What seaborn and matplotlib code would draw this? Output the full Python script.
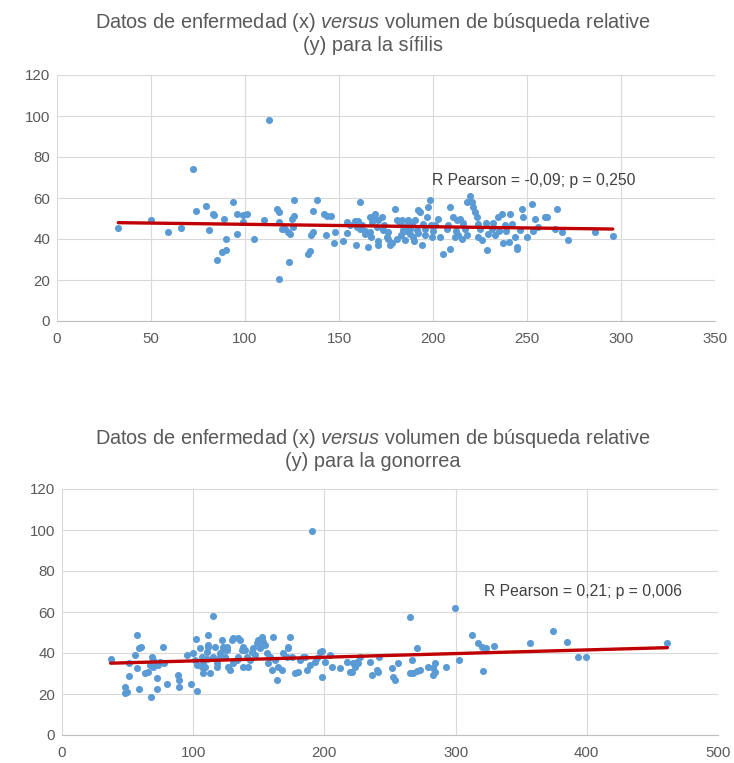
import matplotlib
matplotlib.use("Agg")
import matplotlib.pyplot as plt
import seaborn as sns
import pandas as pd

# ---------------- data ----------------
syph_x = [32.6, 49.8, 59.2, 66.0, 72.5, 73.8, 79.3, 80.9, 83.0, 83.5,
          89.0, 85.0, 87.6, 90.0, 90.0, 93.8, 96.0, 98.8, 101.3, 96.0,
          99.0, 104.8, 110.3, 112.8, 116.8, 118.0, 118.0, 119.5, 121.3, 123.0,
          124.0, 118.0, 123.6, 126.2, 124.8, 126.0, 125.7, 133.3, 134.6, 135.0,
          136.0, 136.0, 138.5, 142.0, 143.8, 145.6, 143.0, 147.3, 147.9, 152.3,
          154.4, 154.0, 159.0, 158.5, 160.3, 161.2, 159.4, 161.2, 165.6, 163.8,
          166.5, 167.4, 169.1, 170.0, 170.9, 166.5, 169.1, 170.9, 172.7, 173.6,
          175.4, 176.3, 179.8, 177.1, 180.7, 182.4, 183.3, 184.2, 185.1, 186.0,
          186.9, 187.7, 188.6, 189.5, 190.4, 191.3, 192.2, 193.1, 194.0, 194.8,
          195.7, 196.6, 197.5, 198.4, 199.3, 201.0, 202.8, 203.7, 205.5, 207.2,
          209.0, 209.0, 210.8, 211.7, 212.6, 213.4, 214.3, 215.2, 217.0, 217.9,
          219.7, 220.6, 221.5, 222.3, 223.2, 224.1, 224.1, 225.0, 225.9, 228.6,
          229.5, 231.3, 233.1, 234.8, 236.6, 238.4, 240.2, 241.0, 241.9, 243.7,
          244.6, 246.3, 247.2, 248.1, 249.9, 252.5, 254.3, 259.6, 260.5, 265.8,
          264.9, 268.4, 272.0, 286.2, 295.6, 256.0, 253.0, 244.5, 178.0, 181.0,
          183.0, 185.0, 188.0, 190.0, 192.0, 196.0, 199.0, 200.0, 156.0, 162.0,
          164.0, 167.0, 171.0, 174.0, 176.0, 208.0, 212.0, 216.0, 228.0, 232.0,
          235.0, 239.0, 237.0, 218.0]
syph_y = [45.6, 49.1, 43.6, 45.6, 74.0, 53.7, 56.0, 44.6, 52.0, 51.5,
          50.0, 30.0, 33.7, 34.8, 40.0, 58.0, 52.4, 51.7, 52.4, 42.6,
          48.3, 40.2, 49.5, 97.9, 54.8, 53.2, 48.3, 45.0, 45.0, 43.4,
          42.6, 20.7, 28.8, 59.2, 50.0, 51.0, 45.9, 32.9, 34.1, 41.8,
          43.4, 53.5, 58.9, 52.4, 51.0, 51.0, 41.8, 38.0, 43.4, 38.9,
          42.9, 48.3, 36.9, 49.0, 49.0, 58.0, 45.9, 45.0, 36.1, 42.6,
          43.4, 48.3, 50.0, 45.9, 36.9, 50.7, 52.4, 49.1, 50.7, 44.3,
          41.0, 43.4, 54.8, 36.9, 49.1, 47.5, 49.1, 44.3, 39.4, 46.7,
          49.1, 42.6, 47.5, 41.0, 49.1, 44.3, 54.0, 53.2, 36.9, 47.5,
          41.8, 50.7, 55.6, 58.9, 41.0, 46.7, 50.0, 41.0, 32.9, 45.1,
          55.6, 35.3, 50.7, 41.0, 49.1, 41.8, 49.9, 40.2, 45.1, 41.8,
          60.8, 58.1, 55.6, 53.2, 50.7, 47.5, 41.0, 45.1, 39.4, 34.5,
          42.6, 45.1, 41.8, 50.7, 52.4, 46.7, 38.5, 52.4, 47.5, 41.0,
          35.3, 44.3, 54.8, 50.7, 41.0, 57.3, 50.0, 50.7, 50.7, 54.8,
          45.0, 43.4, 39.4, 43.4, 41.3, 46.0, 44.0, 36.0, 38.0, 40.0,
          42.0, 44.0, 45.0, 39.0, 43.0, 45.0, 47.0, 44.0, 47.0, 47.0,
          44.0, 41.0, 39.0, 47.0, 40.0, 47.0, 44.0, 48.0, 48.0, 48.0,
          44.0, 44.0, 38.0, 58.0]

gono_x = [37.1, 48.0, 49.3, 48.0, 51.3, 51.3, 56.9, 58.9, 60.0, 55.6,
          57.0, 58.9, 63.3, 65.8, 67.6, 68.6, 69.4, 70.9, 73.2, 74.7,
          72.2, 72.6, 77.2, 77.7, 79.8, 88.6, 89.4, 89.4, 95.0, 98.0,
          100.0, 101.4, 102.7, 102.0, 67.0, 69.6, 105.2, 106.5, 107.7, 109.0,
          110.3, 111.5, 111.5, 114.9, 112.8, 117.9, 120.4, 123.0, 125.5, 128.0,
          130.6, 134.4, 137.0, 138.2, 130.6, 134.4, 115.3, 116.6, 117.9, 120.4,
          121.7, 123.0, 124.2, 125.5, 126.8, 129.3, 133.2, 103.1, 106.5, 107.7,
          110.3, 111.5, 135.7, 138.2, 139.5, 140.8, 142.0, 143.3, 144.6, 145.8,
          147.1, 148.4, 149.6, 150.9, 152.2, 153.4, 154.7, 156.0, 157.2, 158.5,
          159.8, 161.0, 162.3, 163.6, 164.9, 167.4, 168.7, 171.3, 172.5, 173.8,
          175.1, 177.6, 180.1, 181.4, 183.9, 186.5, 189.0, 194.1, 196.6, 197.9,
          200.5, 204.3, 205.6, 211.9, 217.0, 219.5, 222.0, 224.6, 227.1, 234.8,
          236.0, 239.9, 190.3, 152.2, 172.5, 185.2, 192.8, 197.9, 220.8, 223.3,
          225.8, 241.1, 241.9, 251.3, 252.5, 253.8, 256.3, 265.2, 266.5, 270.4,
          265.2, 267.8, 270.4, 272.9, 279.2, 283.0, 283.0, 284.3, 284.3, 292.7,
          299.5, 302.8, 312.3, 317.3, 319.9, 323.2, 329.5, 321.1, 356.7, 374.0,
          384.7, 393.5, 399.4, 461.4]
gono_y = [36.9, 23.6, 21.1, 20.3, 28.8, 35.0, 48.8, 42.3, 43.1, 39.0,
          32.5, 22.3, 30.1, 30.9, 18.7, 38.0, 36.6, 35.0, 34.1, 35.6,
          27.7, 22.3, 42.8, 35.0, 24.9, 29.3, 26.8, 23.6, 39.0, 24.9,
          39.8, 36.6, 21.6, 46.7, 34.1, 33.3, 42.3, 38.2, 35.8, 33.3,
          40.6, 43.9, 48.8, 58.0, 30.1, 35.0, 38.2, 41.5, 43.1, 31.7,
          35.0, 38.2, 41.5, 33.3, 47.2, 47.2, 38.2, 43.1, 33.3, 39.8,
          46.3, 43.1, 38.2, 41.5, 33.3, 46.3, 36.6, 34.1, 33.3, 30.1,
          36.9, 43.1, 46.3, 43.1, 41.5, 38.2, 33.3, 36.6, 40.6, 42.3,
          39.0, 44.7, 46.3, 42.3, 48.0, 45.5, 43.9, 39.8, 35.0, 38.2,
          31.7, 48.0, 36.6, 26.8, 33.3, 31.7, 39.8, 38.2, 42.3, 48.0,
          38.2, 30.1, 30.9, 36.6, 38.2, 31.7, 34.1, 37.4, 40.6, 28.4,
          35.8, 39.0, 33.3, 32.5, 35.8, 30.9, 35.0, 35.8, 38.2, 35.8,
          29.3, 31.7, 99.7, 47.2, 43.1, 38.2, 35.8, 41.1, 30.9, 33.3,
          35.0, 30.9, 38.2, 32.5, 28.4, 26.8, 35.0, 57.7, 36.6, 42.3,
          30.1, 30.4, 31.2, 31.7, 33.3, 32.5, 29.3, 35.0, 30.9, 33.3,
          61.8, 36.6, 48.8, 44.7, 43.1, 42.3, 43.4, 31.4, 44.7, 50.9,
          45.5, 37.9, 37.9, 44.7]

titles = ["Datos de enfermedad (x) $\\mathit{versus}$ volumen de búsqueda relative\n(y) para la sífilis",
          "Datos de enfermedad (x) $\\mathit{versus}$ volumen de búsqueda relative\n(y) para la gonorrea"]
notes = ["R Pearson = -0,09; p = 0,250", "R Pearson = 0,21; p = 0,006"]
note_pos = [(199.5, 68.6), (321.6, 69.8)]
x_max = [350, 500]
x_step = [50, 100]
y_ticks = [0, 20, 40, 60, 80, 100, 120]

# ---------------- style ----------------
sns.set_theme(style="white")
plt.rcParams["font.family"] = ["Liberation Sans", "DejaVu Sans"]
plt.rcParams["mathtext.fontset"] = "custom"
plt.rcParams["mathtext.rm"] = "Liberation Sans"
plt.rcParams["mathtext.it"] = "Liberation Sans:italic"

W, H = 734, 763
fig = plt.figure(figsize=(W / 100, H / 100), dpi=100)
ax1 = fig.add_axes([57 / W, 1 - 321 / H, 658 / W, 246 / H])
ax2 = fig.add_axes([62 / W, 1 - 735 / H, 656 / W, 246 / H])

datasets = [pd.DataFrame({"x": syph_x, "y": syph_y}),
            pd.DataFrame({"x": gono_x, "y": gono_y})]
title_y = [33, 449]

for i, (ax, df) in enumerate(zip([ax1, ax2], datasets)):
    sns.regplot(data=df, x="x", y="y", ax=ax, ci=None,
                scatter_kws=dict(s=26, color="#5B9BD5", linewidths=0, alpha=1, zorder=3),
                line_kws=dict(color="#C00000", lw=2.4, zorder=4))
    ax.set_xlim(0, x_max[i])
    ax.set_ylim(0, 120)
    ax.set_xticks(list(range(0, x_max[i] + 1, x_step[i])))
    ax.set_yticks(y_ticks)
    ax.grid(True, color="#d9d9d9", lw=0.8)
    ax.set_axisbelow(True)
    for s in ["top", "right", "left"]:
        ax.spines[s].set_visible(False)
    ax.spines["bottom"].set_color("#bfbfbf")
    ax.spines["bottom"].set_linewidth(0.8)
    ax.tick_params(axis="both", length=0, labelsize=10.8, labelcolor="#595959")
    ax.tick_params(axis="x", pad=8)
    ax.tick_params(axis="y", pad=5)
    ax.set_xlabel("")
    ax.set_ylabel("")
    ax.text(note_pos[i][0], note_pos[i][1], notes[i], fontsize=11.3,
            color="#404040", va="center", ha="left")
    fig.text(373 / W, 1 - title_y[i] / H, titles[i], ha="center", va="center",
             fontsize=14.3, color="#595959", linespacing=1.15)

fig.savefig("out.png", dpi=100, facecolor="white")
